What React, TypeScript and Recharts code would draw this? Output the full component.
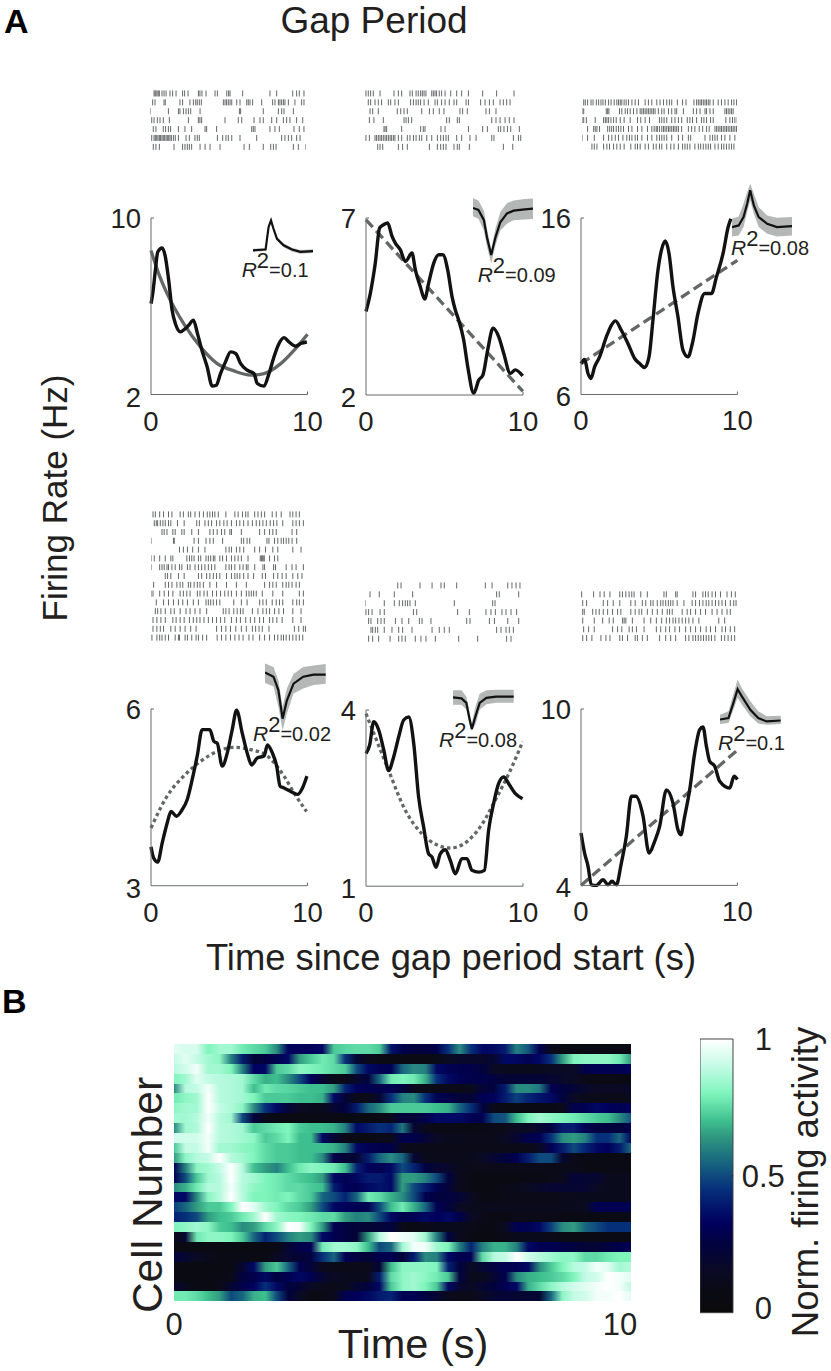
import React from "react";
import {
  Area,
  Bar,
  BarChart,
  Cell,
  ComposedChart,
  Line,
  LineChart,
  Scatter,
  ScatterChart,
  XAxis,
  YAxis,
} from "recharts";

const FONT = "'Liberation Sans', Arial, sans-serif";

// ---------- firing-rate traces ----------
const rateT1 = [0, .11, .28, .43, .71, .92, 1.13, 1.35, 1.56, 1.88, 2.2, 2.41, 2.71, 2.97, 3.25, 3.59, 3.91, 4.17, 4.44, 4.76, 5.09, 5.41, 5.73, 6.15, 6.58, 6.79, 7.22, 7.54, 7.86, 8.18, 8.5, 8.82, 9.25, 9.57, 9.96];
const rate1 = [6.12, 6.57, 7.63, 8.46, 8.64, 8.23, 7.18, 5.82, 5.21, 4.84, 4.99, 5.14, 5.37, 4.76, 4.01, 3.25, 2.38, 2.42, 2.95, 3.48, 3.93, 3.86, 3.4, 3.1, 2.95, 2.5, 2.38, 2.95, 3.71, 4.31, 4.58, 4.38, 4.19, 4.31, 4.38];
const fitT1 = [0, .49, 1.03, 2.09, 3.16, 4.23, 5.3, 6.37, 7.22, 8.29, 9.15, 10];
const fit1 = [8.53, 7.48, 6.57, 5.21, 4.16, 3.4, 3.07, 2.88, 2.95, 3.4, 4.01, 4.73];

const rateT2 = [0, .28, .59, .87, 1.12, 1.38, 1.66, 1.87, 2.19, 2.51, 2.93, 3.14, 3.46, 3.74, 3.99, 4.31, 4.63, 4.9, 5.2, 5.48, 5.69, 5.9, 6.22, 6.48, 6.86, 7.18, 7.45, 7.75, 8.09, 8.45, 8.77, 9.19, 9.51, 9.98];
const rate2 = [4.36, 4.88, 5.72, 6.72, 6.81, 6.86, 6.48, 6.29, 6.1, 5.77, 6.01, 5.54, 5.06, 4.71, 5.16, 5.72, 5.96, 5.96, 5.54, 4.78, 4.4, 4.12, 3.56, 2.8, 2.05, 2.42, 2.57, 3.27, 3.89, 3.65, 3.18, 2.61, 2.71, 2.54];
const fitT2 = [0, 10];
const fit2 = [6.95, 2.1];

const rateT3 = [0, .23, .45, .64, .87, 1.19, 1.62, 1.94, 2.2, 2.58, 3, 3.43, 3.75, 4.07, 4.35, 4.6, 4.92, 5.14, 5.39, 5.63, 5.88, 6.2, 6.52, 6.84, 7.12, 7.48, 7.91, 8.34, 8.66, 9.08, 9.41, 9.58];
const rate3 = [7.75, 7.98, 7.19, 6.91, 7.57, 8.13, 9.26, 9.92, 10.17, 9.64, 8.89, 8.04, 7.75, 7.53, 8.13, 10.21, 13.04, 14.17, 14.7, 13.98, 12.1, 10.4, 8.51, 8.13, 8.89, 10.59, 11.72, 11.72, 12.66, 13.98, 15.49, 15.96];
const fitT3 = [0, 10];
const fit3 = [7.75, 13.6];

const rateT4 = [0, .17, .43, .71, 1.03, 1.28, 1.62, 1.99, 2.31, 2.63, 2.95, 3.27, 3.49, 3.76, 4.02, 4.23, 4.55, 4.87, 5.19, 5.47, 5.83, 6.15, 6.43, 6.79, 7.22, 7.44, 7.76, 8.03, 8.25, 8.5, 8.93, 9.36, 9.68, 9.96];
const rate4 = [3.66, 3.47, 3.4, 3.72, 4.06, 4.26, 4.18, 4.29, 4.46, 4.8, 5.2, 5.65, 5.65, 5.65, 5.45, 5.42, 5.03, 5.25, 5.65, 5.98, 5.59, 5.25, 5.05, 5.17, 5.2, 5.39, 5.25, 5.03, 4.69, 4.66, 4.6, 4.55, 4.66, 4.86];
const fitT4 = [0, 1.03, 2.09, 3.16, 4.23, 5.3, 6.37, 7.44, 8.5, 9.15, 9.94];
const fit4 = [3.98, 4.52, 4.86, 5.11, 5.28, 5.35, 5.31, 5.2, 4.86, 4.57, 4.26];

const rateT5 = [0, .23, .49, .81, 1.13, 1.44, 1.76, 2.08, 2.4, 2.72, 3.04, 3.35, 3.67, 3.99, 4.2, 4.46, 4.73, 5.05, 5.37, 5.69, 6.11, 6.43, 6.75, 7.18, 7.54, 7.81, 8.13, 8.45, 8.77, 9.08, 9.5, 9.97];
const rate5 = [3.26, 3.4, 3.8, 3.66, 3.32, 2.97, 3.2, 3.54, 3.83, 3.88, 3.43, 2.52, 2.01, 1.55, 1.5, 1.32, 1.55, 1.62, 1.44, 1.21, 1.47, 1.47, 1.27, 1.24, 1.27, 1.95, 2.41, 2.75, 2.86, 2.75, 2.58, 2.49];
const fitT5 = [0, .59, 1.44, 2.51, 3.57, 4.63, 5.37, 6.22, 7.28, 8.34, 9.19, 9.98];
const fit5 = [3.94, 3.54, 2.97, 2.29, 1.89, 1.69, 1.65, 1.72, 2.01, 2.52, 2.97, 3.46];

const rateT6 = [0, .23, .45, .66, .98, 1.41, 1.73, 1.98, 2.26, 2.58, 2.9, 3.22, 3.5, 3.97, 4.35, 4.71, 5.03, 5.46, 5.88, 6.2, 6.38, 6.63, 6.95, 7.27, 7.59, 7.8, 8.02, 8.23, 8.55, 8.87, 9.51, 9.79, 10];
const rate6 = [5.78, 5.1, 4.65, 4.02, 4, 4.19, 4.02, 4.14, 4.02, 4.76, 5.67, 7.03, 7.03, 6.35, 5.1, 5.5, 6.01, 7.25, 6.8, 5.89, 5.72, 6.35, 7.25, 8.5, 9.3, 9.39, 8.73, 8.22, 8.05, 7.54, 7.31, 7.71, 7.6];
const fitT6 = [0, 10];
const fit6 = [4, 8.6];

// ---------- spike waveforms (normalised) ----------
const waveT1 = [0, .21, .23, .26, .3, .34, .4, .51, .65, .79, 1];
const wave1 = [.13, .15, .39, .74, .91, .7, .43, .26, .15, .09, .11];
const waveHi1 = [.17, .19, .43, .79, .98, .76, .48, .31, .2, .14, .16];
const waveLo1 = [.09, .11, .35, .69, .85, .64, .38, .21, .1, .04, .06];

const waveT2 = [0, .09, .18, .23, .3, .37, .45, .56, .67, .85, 1];
const wave2 = [.84, .81, .66, .41, .15, .41, .63, .76, .8, .82, .83];
const waveHi2 = [.98, .95, .8, .54, .24, .54, .78, .91, .95, .97, .98];
const waveLo2 = [.72, .68, .51, .27, .03, .29, .51, .61, .66, .67, .68];

const waveT3 = [0, .11, .19, .25, .3, .36, .44, .58, .74, 1];
const wave3 = [.19, .22, .37, .61, .85, .58, .37, .25, .19, .21];
const waveHi3 = [.34, .38, .61, .82, .97, .79, .55, .4, .36, .37];
const waveLo3 = [.02, .04, .19, .46, .67, .43, .19, .07, .02, .04];

const waveT4 = [0, .14, .22, .29, .36, .47, .63, .8, 1];
const wave4 = [.85, .79, .6, .19, .45, .69, .79, .82, .82];
const waveHi4 = [.98, .93, .74, .36, .62, .83, .93, .95, .97];
const waveLo4 = [.7, .65, .36, .02, .26, .55, .62, .67, .69];

const waveT5 = [0, .14, .22, .27, .31, .37, .44, .55, .71, 1];
const wave5 = [.79, .77, .67, .33, .09, .37, .67, .78, .81, .81];
const waveHi5 = [.95, .95, .81, .48, .22, .59, .87, .95, .96, .96];
const waveLo5 = [.63, .63, .52, .19, .04, .19, .52, .64, .67, .67];

const waveT6 = [0, .14, .22, .29, .36, .5, .63, .77, 1];
const wave6 = [.14, .17, .48, .77, .62, .34, .17, .1, .12];
const waveHi6 = [.24, .31, .66, .97, .79, .52, .31, .21, .22];
const waveLo6 = [.05, .07, .34, .59, .45, .21, .06, .03, .05];

// ---------- spike rasters (seconds per trial) ----------
const raster1 = [
  [.26, .32, .38, .45, .53, .6, .77, .9, 1.03, 1.28, 1.45, 1.67, 2.09, 2.22, 2.44, 3.1, 3.2, 3.33, 3.59, 4.17, 4.32, 4.92, 5.04, 5.13, 5.94, 7.69, 8.12, 9.15, 9.4, 9.57, 9.87],
  [.17, .32, .9, .98, 1.92, 2.09, 2.56, 2.78, 2.93, 3.03, 3.16, 3.29, 4.7, 4.81, 4.91, 5.02, 5.13, 5.24, 5.56, 5.77, 6.2, 6.3, 6.41, 6.58, 7.16, 7.86, 8.01, 8.23, 8.33, 8.44, 8.55, 8.65, 8.87, 9.29, 9.72, 9.87],
  [0, 1.18, 1.82, 1.92, 2.14, 2.31, 2.46, 2.61, 3.21, 5.73, 5.81, 7.26, 8.23, 8.44, 8.59, 9.19],
  [.11, .26, .47, .64, .85, 1.24, 2.46, 3.1, 3.2, 3.31, 4.81, 5.66, 5.88, 6.67, 7.05, 7.26, 7.8, 8.12, 8.55, 8.76, 8.97, 9.4, 9.79],
  [.21, .38, .85, 1, 1.18, 1.32, 1.82, 2.24, 2.67, 3.53, 3.63, 4.27, 6.52, 6.62, 6.73, 7.69, 8.01, 8.29, 9.23, 9.57, 9.87],
  [.11, .26, .34, .43, .51, .6, .68, .77, .85, .94, 1.03, 1.11, 1.2, 1.28, 1.37, 1.5, 1.62, 1.82, 2.31, 2.52, 2.88, 3.03, 3.16, 4.32, 4.66, 4.87, 5.02, 5.24, 5.77, 6.84, 8.44, 8.65, 8.87, 9.08, 9.4, 9.62],
  [.21, .38, .6, 1.54, 2.09, 2.24, 2.39, 2.52, 2.67, 3.21, 3.53, 3.85, 4.49, 6.03, 6.37, 7.26, 7.74, 7.91, 8.08, 9.19, 9.51, 10],
];
const raster2 = [
  [.06, .21, .36, .53, .96, 1.85, 2.13, 2.34, 2.87, 3.02, 3.26, 3.4, 3.55, 3.66, 3.77, 3.89, 4.26, 4.36, 4.47, 4.57, 4.74, 4.89, 5.11, 5.47, 5.85, 6.17, 6.6, 7.51, 8.4, 9.51],
  [.21, .36, .64, .85, 1.06, 1.49, 1.64, 1.91, 2.13, 2.91, 3.09, 3.26, 3.4, 3.55, 3.77, 4.04, 4.47, 4.62, 4.89, 5.11, 5.38, 5.68, 5.85, 6.45, 6.6, 7.38, 7.66, 7.94, 8.19, 8.62, 8.83, 9.04, 9.26],
  [.32, .49, .85, 2.06, 2.28, 2.49, 2.7, 3.62, 4.11, 4.36, 4.74, 5.04, 6.06, 6.23, 6.53, 7.72, 7.94, 8.36],
  [.28, .57, 1.17, 2.49, 2.62, 2.77, 2.98, 5.21, 5.38, 5.89, 6.02, 8.09, 8.36, 8.62, 8.94, 9.21, 9.51],
  [1.21, 1.28, 1.38, 2.34, 3.55, 3.72, 3.83, 4.85, 5.11, 6.6, 7.51, 7.81, 8.51, 8.66, 8.87, 9.09, 9.3, 9.85],
  [.06, .28, .64, .74, .85, .96, 1.06, 1.17, 1.28, 1.38, 1.49, 1.6, 1.7, 1.81, 1.91, 2.13, 2.34, 2.7, 2.87, 3.09, 3.26, 3.47, 3.62, 3.94, 4.26, 4.62, 4.83, 5, 5.17, 5.32, 5.85, 6.17, 6.7, 7.09, 8.09, 8.23, 9.47, 9.79, 9.94],
  [.81, .96, 1.13, 2.13, 2.4, 2.7, 4.11, 4.62, 4.83, 5, 5.17, 5.68, 5.89, 6.02, 6.66, 8.83, 9.43],
];
const raster3 = [
  [.11, .21, .36, .58, .71, .92, 1.07, 1.22, 1.35, 1.5, 1.71, 1.87, 2.07, 2.24, 2.35, 2.46, 2.56, 2.71, 2.84, 2.99, 3.21, 3.42, 3.63, 4.06, 4.27, 4.49, 4.81, 5.02, 5.24, 5.45, 5.62, 5.77, 6.13, 6.47, 6.69, 7.2, 7.37, 7.48, 7.59, 7.69, 7.8, 7.91, 8.01, 8.12, 8.23, 8.44, 8.76, 8.97, 9.19, 9.4, 9.62, 9.77, 9.94],
  [0, .11, 1.56, 1.65, 1.73, 2.41, 2.56, 2.78, 2.93, 3.1, 3.31, 3.53, 3.74, 3.85, 3.95, 4.06, 4.17, 4.27, 4.38, 4.49, 4.59, 4.7, 4.91, 5.13, 5.28, 5.56, 5.77, 5.98, 6.09, 6.52, 7.16, 7.37, 7.59, 7.91, 8.01, 8.23, 8.44, 9.19, 9.29, 9.4, 9.51, 9.62, 9.72],
  [0, .11, .28, .85, 1.39, 1.5, 1.6, 1.71, 1.86, 2.03, 2.2, 2.46, 2.71, 3.1, 3.57, 3.78, 4.06, 4.34, 4.98, 5.13, 5.28, 5.45, 5.77, 5.98, 6.2, 6.41, 6.77, 6.94, 7.11, 7.37, 7.69, 7.84, 8.01, 8.27, 8.44, 9.25, 9.51, 9.68, 9.83, 9.98],
  [.36, .75, .85, .96, 1.13, 1.65, 1.78, 1.91, 2.03, 2.2, 2.35, 2.5, 2.67, 2.99, 3.21, 3.57, 3.85, 4.21, 4.49, 4.64, 4.77, 4.85, 4.98, 5.13, 5.24, 5.34, 5.45, 5.56, 5.66, 5.77, 5.88, 5.98, 6.09, 6.2, 6.41, 6.84, 7.05, 7.26, 7.54, 7.76, 8.01, 8.18, 8.55, 8.66, 8.76, 8.87, 8.97, 9.08, 9.19, 9.29, 9.4, 9.51, 9.62, 9.72, 9.83, 9.94],
  [0, .36, .79, 1.39, 1.71, 1.92, 2.14, 2.35, 2.63, 2.88, 3.05, 3.21, 3.42, 3.57, 3.85, 4.21, 4.49, 4.81, 4.98, 5.13, 5.28, 5.45, 5.77, 6.2, 6.47, 6.84, 6.99, 7.91, 8.23, 8.4, 8.55, 8.7, 8.97, 9.19, 9.51, 9.83],
  [.64, .79, .96, 1.39, 1.6, 1.77, 2.03, 2.24, 2.46, 2.71, 3.14, 3.42, 3.57, 3.74, 4.06, 4.27, 4.59, 4.77, 4.98, 5.13, 5.45, 5.71, 5.92, 6.2, 6.47, 6.62, 6.77, 6.94, 7.26, 7.48, 7.63, 7.8, 7.97, 8.12, 8.27, 8.55, 8.76, 8.97, 9.12, 9.29, 9.46, 9.62, 9.77],
];
const raster4 = [
  [.13, .28, .56, .81, 1.13, 1.35, 1.88, 2.09, 2.41, 2.56, 2.84, 3.12, 3.38, 3.63, 3.8, 3.97, 4.12, 4.34, 4.83, 5.41, 5.62, 5.9, 6.11, 6.26, 6.69, 6.9, 7.12, 7.33, 7.82, 8.08, 8.4, 8.97, 9.15, 9.36, 9.57],
  [.21, .34, .43, .6, .77, .92, 1.13, 1.28, 1.71, 2.14, 2.95, 3.12, 3.48, 3.7, 3.91, 4.23, 4.44, 4.7, 4.91, 5.19, 5.51, 5.73, 5.98, 6.26, 6.54, 6.79, 7.01, 7.22, 7.44, 7.69, 7.91, 8.12, 8.5, 9.15, 9.36, 9.57, 9.83],
  [.71, .85, 1.03, 1.41, 1.56, 1.99, 2.14, 2.63, 3.06, 3.8, 4.02, 4.27, 4.55, 4.76, 5.09, 5.19, 5.83, 7.01, 7.33, 7.65, 7.86, 8.08, 9.1, 9.4],
  [0, 1.45, 1.5, 2.78, 3.06, 3.55, 3.8, 4.02, 4.62, 5.83, 5.98, 6.2, 6.37, 7.48, 7.61, 7.97, 8.18, 8.4, 8.55, 8.72, 8.89, 9.1, 9.4],
  [1.84, 2.09, 2.35, 2.69, 3.06, 3.48, 4.83, 5.04, 5.19, 5.51, 5.73, 5.98, 6.69, 7.01, 7.39, 7.86, 8.18, 9.15, 9.68],
  [0, .21, .56, .92, 1.28, 1.41, 2.31, 2.48, 2.63, 2.78, 3.06, 3.21, 3.55, 3.7, 3.85, 4.02, 4.12, 4.44, 4.62, 4.87, 5.19, 5.41, 5.62, 5.83, 6.26, 7.05, 7.12, 7.18, 7.24, 7.31, 7.65, 7.97, 8.18],
  [0, .56, .71, .85, 1.03, 1.13, 1.35, 1.56, 1.84, 1.99, 2.35, 2.52, 2.84, 3.06, 3.27, 3.48, 3.7, 3.91, 4.12, 4.83, 5.04, 5.19, 5.41, 5.73, 5.94, 6.15, 6.26, 6.69, 7.22, 7.33, 7.91, 8.03, 8.72, 9.1, 9.36, 9.83],
  [.92, 1.07, 1.28, 1.77, 2.14, 3.06, 3.27, 3.59, 3.8, 4.02, 4.23, 4.44, 4.87, 5.19, 5.41, 5.56, 5.73, 5.98, 6.26, 6.62, 7.18, 7.39, 7.91, 8.18, 8.46, 8.72, 9.15, 9.47, 9.74],
  [.17, .92, 1.13, 1.35, 1.67, 1.88, 2.05, 2.41, 2.56, 2.78, 2.99, 3.16, 3.38, 3.8, 4.23, 4.87, 5.51, 6.15, 7.33, 7.65, 7.86, 8.08, 8.5, 8.72, 8.89, 9.1, 9.36, 9.57],
  [0, .13, .56, .85, 1.13, 1.41, 1.88, 2.09, 2.31, 2.52, 2.99, 3.16, 3.42, 3.63, 3.97, 4.23, 4.49, 4.76, 4.98, 5.19, 5.51, 5.83, 6.15, 6.32, 6.47, 6.62, 6.79, 7.18, 7.86, 8.5, 9.57, 9.83],
  [.34, .81, 1.13, 1.45, 1.77, 2.05, 2.35, 2.73, 3.06, 3.55, 3.7, 3.85, 4.02, 4.23, 4.44, 5.34, 5.83, 6.2, 7.01, 7.22, 7.44, 7.82, 8.08, 8.29, 8.5, 9.15, 9.4, 9.57, 9.83],
  [.28, .43, .64, .92, 1.28, 1.5, 1.88, 2.26, 2.52, 2.84, 3.16, 3.59, 4.66, 4.83, 5.04, 5.34, 5.56, 5.77, 5.94, 6.54, 6.9, 7.22, 7.44, 7.65, 7.97, 8.25, 8.55, 9.15, 9.68],
  [.13, .38, .64, .92, 1.41, 1.62, 1.88, 2.14, 2.48, 2.73, 2.95, 3.16, 3.42, 3.7, 3.97, 4.23, 4.49, 4.76, 5.19, 5.51, 5.77, 6.11, 6.41, 6.69, 7.01, 7.26, 7.65, 7.86, 8.12, 8.46, 9.15, 9.68],
  [.13, .38, .6, .81, 1.28, 1.56, 1.88, 2.2, 2.56, 2.91, 4.23, 4.55, 4.83, 5.13, 5.47, 5.83, 6.15, 6.54, 6.75, 6.97, 7.18, 7.61, 9.25, 9.53, 9.83, 9.96],
  [.06, .38, .56, .71, .92, 1.13, 1.56, 1.77, 1.84, 2.2, 2.35, 2.63, 2.91, 3.06, 3.33, 3.59, 4.27, 4.55, 4.83, 5.13, 5.41, 5.68, 5.94, 6.32, 6.58, 7.01, 7.33, 7.65, 7.97, 8.18, 8.4, 8.55, 8.72, 8.93, 9.15, 9.36, 9.57, 9.79],
];
const raster5 = [
  [2.09, 2.3, 3.51, 4.28, 4.85, 5.06, 5.85, 7.68, 8.11, 9.11, 9.38, 9.64, 9.89],
  [.32, .91, 1.87, 3.04, 8.4, 8.57, 9.81],
  [0, 1.23, 1.87, 2.19, 2.4, 2.57, 2.72, 2.87, 3.21, 5.7, 8.15, 8.3],
  [.06, .23, .45, .96, 1.23, 3.09, 3.3, 5.91, 6.66, 7.72, 8.04, 8.32, 8.74, 9, 9.32, 9.68],
  [.23, .38, .81, 1.02, 1.23, 1.94, 2.36, 2.79, 3.47, 3.64, 4.21, 6.49, 6.7, 7.94, 8.26, 9.11, 9.81],
  [.38, .49, .66, .81, 1.23, 1.72, 2.15, 2.4, 3, 4.28, 4.74, 5.06, 5.38, 8.4, 8.68, 9, 9.21, 9.47],
  [.23, .49, .87, 1.6, 2.15, 2.36, 2.57, 3.21, 3.57, 3.89, 4.49, 5.98, 7.19, 9.04, 9.32],
];
const raster6 = [
  [.04, .81, 1.22, 1.49, 1.86, 2.49, 2.66, 2.88, 3.09, 3.26, 3.41, 3.84, 4.26, 5.33, 5.48, 6.08, 6.18, 7.19, 7.36, 7.83, 8, 8.17, 8.42, 8.64, 8.96, 9.38, 9.66, 9.91],
  [.11, .36, 1.43, 1.71, 2.07, 2.49, 3.2, 3.48, 3.94, 4.16, 4.48, 4.63, 4.9, 5.12, 5.27, 5.44, 5.61, 5.76, 5.91, 6.18, 6.61, 7.14, 7.36, 7.61, 7.83, 8.04, 8.21, 8.42, 8.64, 8.85, 9.06, 9.28, 9.59, 9.81, 9.96],
  [.11, .21, .75, .96, 1.17, 1.43, 1.71, 2.03, 2.35, 2.56, 3.2, 3.48, 3.73, 3.9, 4.26, 4.58, 4.9, 5.22, 5.54, 5.69, 5.86, 6.5, 6.82, 7.04, 7.36, 7.68, 8, 8.42, 8.74, 9.06, 9.38, 9.59],
  [.11, .85, 1.39, 1.81, 2.07, 2.67, 2.77, 2.88, 3.3, 4.05, 4.48, 4.84, 5.18, 5.48, 5.69, 5.91, 6.08, 6.29, 6.5, 6.72, 6.93, 7.19, 7.57, 8.85, 9.23],
  [.17, .49, .85, 2.03, 2.35, 2.62, 3.09, 3.3, 3.56, 4.05, 4.84, 5.12, 5.44, 5.69, 6.03, 6.33, 6.72, 7.04, 7.36, 7.68, 8.04, 8.32, 8.64, 9.06, 9.28, 9.59, 9.87],
  [.11, .36, .7, 1.28, 1.6, 1.86, 2.49, 2.66, 2.99, 3.48, 3.62, 3.94, 4.26, 5.05, 5.44, 5.76, 6.08, 6.72, 6.93, 7.19, 7.36, 7.53, 7.7, 7.87, 8.04, 8.21, 8.38, 8.6, 9.02, 9.23, 9.45, 9.66, 9.87],
];

// ---------- heat map: activity per cell, sampled every 0.25 s from 0 to 10 s ----------
const heatRows = [
  [.95, .93, .93, .8, .85, .85, .78, .75, .72, .62, .33, .32, .32, .35, .72, .74, .75, .75, .72, .38, .28, .25, .25, .28, .45, .62, .45, .35, .35, .4, .6, .52, .3, .12, .08, .08, .08, .08, .08, .08, .08],
  [.9, .95, .9, .85, .82, .6, .4, .22, .25, .3, .35, .65, .72, .78, .75, .45, .2, .12, .08, .08, .08, .08, .08, .1, .15, .18, .18, .18, .2, .35, .35, .3, .35, .45, .65, .8, .82, .82, .82, .78, .65],
  [.88, .92, .98, .85, .85, .8, .6, .33, .35, .72, .75, .82, .8, .78, .75, .72, .5, .35, .3, .3, .55, .62, .6, .35, .3, .28, .28, .25, .15, .12, .12, .12, .12, .15, .15, .15, .28, .3, .3, .3, .32],
  [.8, .85, .95, .9, .88, .87, .85, .75, .68, .7, .62, .5, .32, .2, .1, .1, .18, .25, .55, .78, .8, .78, .68, .45, .35, .3, .28, .28, .25, .22, .22, .22, .22, .2, .18, .15, .1, .08, .08, .08, .08],
  [.62, .88, .9, .98, .88, .87, .85, .7, .78, .75, .74, .72, .7, .7, .65, .42, .32, .3, .28, .3, .25, .12, .1, .1, .1, .1, .12, .22, .25, .4, .62, .62, .58, .3, .25, .22, .18, .15, .15, .15, .18],
  [.78, .82, .85, 1, .88, .87, .85, .8, .72, .72, .72, .7, .7, .68, .35, .22, .1, .1, .2, .45, .6, .62, .45, .3, .28, .22, .22, .3, .32, .4, .48, .42, .38, .35, .25, .15, .12, .1, .1, .1, .12],
  [.82, .85, .85, 1, .9, .87, .82, .62, .45, .35, .22, .15, .12, .12, .2, .25, .4, .55, .62, .72, .72, .72, .72, .7, .68, .55, .45, .25, .1, .08, .08, .08, .08, .08, .12, .28, .3, .35, .33, .3, .33],
  [.85, .85, .88, .98, .88, .85, .5, .25, .1, .08, .07, .07, .08, .08, .08, .08, .08, .08, .08, .12, .25, .22, .28, .35, .35, .35, .3, .3, .5, .52, .7, .8, .85, .82, .8, .78, .75, .72, .7, .62, .52],
  [.62, .85, .87, 1, .88, .87, .85, .72, .75, .78, .8, .72, .7, .7, .68, .6, .35, .4, .45, .42, .58, .2, .12, .08, .08, .08, .08, .08, .1, .1, .15, .15, .2, .25, .4, .4, .3, .25, .25, .25, .28],
  [.92, .92, .92, .98, .88, .87, .85, .82, .72, .75, .8, .7, .7, .35, .2, .1, .08, .08, .1, .12, .28, .28, .22, .15, .12, .12, .1, .1, .1, .15, .2, .28, .3, .45, .62, .65, .6, .45, .45, .55, .35],
  [.72, .9, .9, .98, .85, .85, .82, .8, .75, .72, .72, .7, .7, .7, .68, .6, .35, .3, .28, .28, .12, .1, .1, .1, .1, .1, .1, .1, .1, .1, .1, .1, .15, .3, .4, .5, .42, .35, .32, .4, .55],
  [.65, .82, .88, .9, 1, .88, .85, .8, .75, .72, .72, .7, .7, .62, .28, .22, .2, .4, .55, .62, .55, .2, .12, .1, .1, .1, .12, .15, .2, .25, .3, .4, .5, .5, .2, .1, .08, .08, .08, .08, .08],
  [.3, .6, .82, .85, .9, 1, .88, .7, .65, .6, .7, .78, .82, .8, .78, .7, .42, .32, .3, .35, .5, .42, .25, .2, .18, .12, .1, .1, .1, .1, .1, .1, .1, .1, .1, .1, .08, .08, .08, .08, .08],
  [.3, .5, .72, .85, .88, 1, .88, .85, .8, .78, .75, .72, .7, .65, .35, .3, .35, .4, .4, .35, .65, .65, .6, .5, .25, .12, .08, .07, .07, .07, .07, .07, .08, .1, .12, .22, .2, .2, .12, .12, .12],
  [.62, .68, .78, .88, .88, .98, .88, .82, .8, .78, .75, .75, .72, .7, .4, .32, .3, .35, .38, .35, .65, .5, .4, .3, .22, .12, .08, .07, .07, .1, .12, .15, .18, .2, .2, .2, .2, .15, .12, .12, .12],
  [.35, .35, .62, .82, .88, 1, .88, .8, .8, .78, .8, .75, .72, .55, .5, .42, .55, .78, .75, .68, .62, .5, .3, .25, .25, .22, .15, .08, .08, .1, .1, .1, .1, .1, .1, .12, .12, .12, .12, .12, .12],
  [.48, .55, .65, .72, .72, .8, 1, .95, .85, .8, .75, .72, .65, .5, .35, .32, .3, .3, .5, .7, .78, .68, .55, .3, .25, .15, .12, .12, .12, .12, .12, .12, .12, .12, .12, .12, .15, .3, .3, .3, .3],
  [.42, .45, .5, .65, .7, .72, .78, .85, 1, .85, .82, .8, .78, .75, .75, .65, .6, .62, .5, .35, .28, .3, .35, .32, .35, .28, .15, .1, .08, .08, .1, .1, .1, .1, .08, .08, .08, .08, .08, .08, .1],
  [.8, .82, .85, .82, .72, .7, .62, .65, .75, .82, 1, .98, .8, .65, .3, .25, .22, .22, .22, .25, .1, .08, .1, .12, .12, .12, .1, .08, .08, .15, .3, .3, .35, .48, .62, .65, .55, .5, .45, .45, .45],
  [.1, .2, .78, .82, .82, .8, .72, .55, .42, .5, .6, .65, .62, .35, .3, .25, .22, .65, .88, 1, .98, .95, .85, .6, .25, .12, .08, .07, .07, .1, .12, .12, .12, .1, .08, .08, .08, .08, .08, .08, .08],
  [.07, .07, .07, .07, .07, .07, .07, .07, .07, .08, .2, .28, .3, .78, .85, .85, .82, .7, .5, .55, .85, .98, .98, .85, .8, .6, .42, .6, .68, .68, .6, .35, .3, .3, .28, .25, .22, .22, .25, .28, .3],
  [.25, .2, .15, .12, .08, .08, .08, .08, .08, .15, .2, .22, .25, .45, .55, .3, .25, .22, .28, .3, .22, .4, .62, .6, .35, .28, .3, .75, .88, .9, 1, .92, .88, .85, .82, .82, .75, .75, .78, .8, .8],
  [.07, .07, .07, .07, .07, .08, .2, .35, .65, .72, .55, .3, .22, .12, .1, .1, .1, .12, .22, .7, .82, .82, .82, .8, .42, .25, .15, .2, .25, .3, .3, .35, .62, .72, .8, .88, .9, .98, .95, .85, .88],
  [.07, .07, .07, .07, .08, .1, .25, .28, .35, .25, .3, .35, .3, .2, .15, .12, .12, .12, .4, .75, .82, .85, .82, .78, .72, .25, .12, .12, .2, .28, .62, .68, .7, .72, .75, .8, .9, .92, 1, .98, .95],
  [.2, .12, .08, .07, .1, .2, .28, .32, .45, .35, .25, .22, .15, .12, .1, .12, .2, .25, .35, .72, .82, .85, .8, .72, .35, .2, .15, .2, .25, .3, .35, .68, .75, .82, .88, .92, .95, .98, 1, .98, .9],
  [.78, .78, .75, .7, .65, .5, .55, .68, .7, .5, .25, .15, .08, .08, .12, .3, .32, .35, .4, .42, .3, .3, .25, .2, .12, .1, .1, .15, .2, .22, .2, .2, .2, .55, .82, .9, .92, .98, .98, 1, .95],
];
const colorLevels = [0, .08, .15, .25, .33, .45, .55, .65, .7, .8, .9, 1];
const colorValues = ["#0a0a0c", "#0a0a14", "#0a0a24", "#02023f", "#00005e", "#062f7a", "#17657f", "#319c80", "#3ebf8f", "#7ff5bc", "#c4fbe6", "#ffffff"];
const colorbarStops = [0, .08, .15, .25, .33, .45, .55, .65, .7, .8, .9, 1];

const hex = (h: string) => [1, 3, 5].map((i) => parseInt(h.slice(i, i + 2), 16));
function colorOf(v: number) {
  let i = 0;
  while (i < colorLevels.length - 2 && v > colorLevels[i + 1]) i++;
  const f = Math.min(1, Math.max(0, (v - colorLevels[i]) / (colorLevels[i + 1] - colorLevels[i])));
  const a = hex(colorValues[i]);
  const b = hex(colorValues[i + 1]);
  return `rgb(${a.map((c, k) => Math.round(c + (b[k] - c) * f)).join(",")})`;
}

const zipXY = (xs: number[], ys: number[]) => xs.map((x, i) => ({ x, y: ys[i] }));
const wavePoints = (t: number[], m: number[], hi: number[], lo: number[]) =>
  t.map((x, i) => ({ x, mean: m[i], band: [lo[i], hi[i]] }));

const GREY = "#636867";
const AXIS = "#666a6a";

const panels = [
  {
    rate: zipXY(rateT1, rate1), fit: zipXY(fitT1, fit1), yDomain: [2, 10], dash: undefined, curve: "monotone",
    plot: [150.5, 218, 156.5, 176.5], raster: raster1, rasterBox: [150, 88.9, 156, 62.3],
    wave: wavePoints(waveT1, wave1, waveHi1, waveLo1), waveBox: [252.7, 216.7, 60, 38.3],
    r2: "=0.1", r2Pos: [241.7, 277],
  },
  {
    rate: zipXY(rateT2, rate2), fit: zipXY(fitT2, fit2), yDomain: [2, 7], dash: "10 5", curve: "linear",
    plot: [365.7, 218, 157, 177], raster: raster2, rasterBox: [365, 88.9, 156.7, 62.3],
    wave: wavePoints(waveT2, wave2, waveHi2, waveLo2), waveBox: [472.7, 196.7, 60.7, 68.3],
    r2: "=0.09", r2Pos: [477.7, 282],
  },
  {
    rate: zipXY(rateT3, rate3), fit: zipXY(fitT3, fit3), yDomain: [6, 16], dash: "10 5", curve: "linear",
    plot: [581.3, 218, 156.4, 176.5], raster: raster3, rasterBox: [581.7, 98, 155.5, 53],
    wave: wavePoints(waveT3, wave3, waveHi3, waveLo3), waveBox: [731.7, 181.7, 60.7, 55.7],
    r2: "=0.08", r2Pos: [731, 255],
  },
  {
    rate: zipXY(rateT4, rate4), fit: zipXY(fitT4, fit4), yDomain: [3, 6], dash: "3.5 3", curve: "monotone",
    plot: [150.5, 709.3, 156.5, 176.7], raster: raster4, rasterBox: [151, 509.6, 155, 132],
    wave: wavePoints(waveT4, wave4, waveHi4, waveLo4), waveBox: [265, 661.7, 60.7, 70],
    r2: "=0.02", r2Pos: [253, 740.7],
  },
  {
    rate: zipXY(rateT5, rate5), fit: zipXY(fitT5, fit5), yDomain: [1, 4], dash: "3.5 3", curve: "monotone",
    plot: [365.7, 709.5, 157, 176.2], raster: raster5, rasterBox: [365, 580.6, 156.7, 62.2],
    wave: wavePoints(waveT5, wave5, waveHi5, waveLo5), waveBox: [453.3, 688.3, 60.7, 45],
    r2: "=0.08", r2Pos: [439, 747],
  },
  {
    rate: zipXY(rateT6, rate6), fit: zipXY(fitT6, fit6), yDomain: [4, 10], dash: "10 5", curve: "linear",
    plot: [581.3, 709.3, 156.4, 176.4], raster: raster6, rasterBox: [581.3, 589.6, 155.7, 52.4],
    wave: wavePoints(waveT6, wave6, waveHi6, waveLo6), waveBox: [720, 678.3, 60.7, 48.3],
    r2: "=0.1", r2Pos: [718, 750],
  },
];

const abs = (left: number, top: number): React.CSSProperties => ({ position: "absolute", left, top });

function RatePanel({ p }: { p: (typeof panels)[number] }) {
  const [left, top, w, h] = p.plot;
  const yMin = p.yDomain[0];
  return (
    <div style={abs(left - 50, top - 25)}>
      <LineChart width={w + 80} height={h + 70} margin={{ top: 25, right: 30, bottom: 0, left: 0 }}>
        <XAxis
          type="number" dataKey="x" domain={[0, 10]} ticks={[0, 10]} height={45} stroke={AXIS}
          tickSize={0} tickMargin={0} interval={0} allowDuplicatedCategory={false}
          tick={(t: any) => (
            <g>
              <line x1={t.x} x2={t.x} y1={t.y} y2={t.y - (t.payload.value === 10 ? 3 : 0)} stroke={AXIS} />
              <text x={t.x} y={t.y + 36} textAnchor="middle" fontFamily={FONT} fontSize={27.5} fill="#231f20">{t.payload.value}</text>
            </g>
          )}
        />
        <YAxis
          type="number" dataKey="y" domain={p.yDomain} ticks={p.yDomain} width={50} stroke={AXIS}
          tickSize={0} tickMargin={0} interval={0}
          tick={(t: any) => (
            <g>
              <line x1={t.x} x2={t.x + (t.payload.value === yMin ? 0 : 3)} y1={t.y} y2={t.y} stroke={AXIS} />
              <text x={t.x - 10} y={t.y + (t.payload.value === yMin ? 12 : 10)} textAnchor="end" fontFamily={FONT} fontSize={27.5} fill="#231f20">{t.payload.value}</text>
            </g>
          )}
        />
        <Line data={p.fit} dataKey="y" type={p.curve as any} dot={false} stroke={GREY} strokeWidth={3.3} strokeDasharray={p.dash} isAnimationActive={false} />
        <Line data={p.rate} dataKey="y" type="monotone" dot={false} stroke="#121212" strokeWidth={3.4} strokeLinejoin="round" isAnimationActive={false} />
      </LineChart>
    </div>
  );
}

function Raster({ rows, box }: { rows: number[][]; box: number[] }) {
  const [left, top, w, h] = box;
  const spikes = rows.flatMap((r, ri) => r.map((x) => ({ x, y: ri })));
  return (
    <div style={abs(left, top)}>
      <ScatterChart width={w} height={h} margin={{ top: 0, right: 0, bottom: 0, left: 0 }}>
        <XAxis type="number" dataKey="x" domain={[0, 10]} hide />
        <YAxis type="number" dataKey="y" domain={[-0.5, rows.length - 0.5]} reversed hide />
        <Scatter
          data={spikes}
          isAnimationActive={false}
          shape={(s: any) => <line x1={s.cx} x2={s.cx} y1={s.cy - 3} y2={s.cy + 3} stroke="#626667" strokeWidth={1} />}
        />
      </ScatterChart>
    </div>
  );
}

function Waveform({ data, box }: { data: any[]; box: number[] }) {
  const [left, top, w, h] = box;
  return (
    <div style={abs(left, top)}>
      <ComposedChart width={w} height={h} data={data} margin={{ top: 0, right: 0, bottom: 0, left: 0 }}>
        <XAxis type="number" dataKey="x" domain={[0, 1]} hide />
        <YAxis type="number" domain={[0, 1]} hide />
        <Area dataKey="band" type="linear" stroke="none" fill="#b3b7b6" fillOpacity={1} dot={false} activeDot={false} isAnimationActive={false} />
        <Line dataKey="mean" type="linear" stroke="#111" strokeWidth={2.2} dot={false} isAnimationActive={false} />
      </ComposedChart>
    </div>
  );
}

const heatData = heatRows.map((_, i) => ({ name: `cell${i + 1}`, span: 10 }));

function HeatMap() {
  const plotW = 457;
  const plotH = 257.4;
  return (
    <div style={abs(174.3 - 30, 1044.3)}>
      <BarChart
        layout="vertical" width={plotW + 60} height={plotH + 50} data={heatData} barCategoryGap={0}
        margin={{ top: 0, right: 30, bottom: 0, left: 30 }}
      >
        <defs>
          {heatRows.map((row, i) => (
            <linearGradient key={i} id={`heat-${i}`} x1="0" x2="1" y1="0" y2="0">
              {row.map((v, k) => (
                <stop key={k} offset={k / (row.length - 1)} stopColor={colorOf(v)} />
              ))}
            </linearGradient>
          ))}
        </defs>
        <XAxis
          type="number" domain={[0, 10]} ticks={[0, 10]} height={50} axisLine={false} tickSize={0} tickMargin={0} interval={0}
          tick={(t: any) => (
            <text x={t.x - (t.payload.value === 10 ? 11 : 0)} y={t.y + 34} textAnchor="middle" fontFamily={FONT} fontSize={31} fill="#231f20">{t.payload.value}</text>
          )}
        />
        <YAxis type="category" dataKey="name" hide />
        <Bar dataKey="span" isAnimationActive={false} shapeRendering="crispEdges">
          {heatRows.map((_, i) => (
            <Cell key={i} fill={`url(#heat-${i})`} />
          ))}
        </Bar>
      </BarChart>
    </div>
  );
}

const colorbarData = [{ name: "scale", top: 1 }];

function Colorbar() {
  const plotH = 273.7;
  return (
    <div style={abs(700, 1039 - 20)}>
      <BarChart
        width={33.3 + 70} height={plotH + 40} data={colorbarData} barCategoryGap={0}
        margin={{ top: 20, right: 0, bottom: 20, left: 0 }}
      >
        <defs>
          <linearGradient id="cbar" x1="0" x2="0" y1="1" y2="0">
            {colorbarStops.map((v) => (
              <stop key={v} offset={v} stopColor={colorOf(v)} />
            ))}
          </linearGradient>
        </defs>
        <XAxis dataKey="name" hide />
        <YAxis
          orientation="right" type="number" domain={[0, 1]} ticks={[0, 0.5, 1]} width={70} axisLine={false}
          tickSize={0} tickMargin={0} interval={0}
          tick={(t: any) => (
            <g>
              {t.payload.value === 0.5 && <line x1={t.x - 2} x2={t.x} y1={t.y} y2={t.y} stroke="#333" />}
              <text x={t.x + 30} y={t.y + (t.payload.value === 0 ? 6 : 11)} textAnchor="middle" fontFamily={FONT} fontSize={31} fill="#231f20">{t.payload.value}</text>
            </g>
          )}
        />
        <Bar dataKey="top" fill="url(#cbar)" stroke="#444" strokeWidth={1} isAnimationActive={false} />
      </BarChart>
    </div>
  );
}

function Labels() {
  const t = { fontFamily: FONT, fill: "#231f20" };
  return (
    <svg width={831} height={1371} style={{ ...abs(0, 0), pointerEvents: "none" }}>
      <text {...t} x={4} y={33} fontSize={34} fontWeight="bold" fill="#000">A</text>
      <text {...t} x={2} y={1013} fontSize={34} fontWeight="bold" fill="#000">B</text>
      <text {...t} x={374} y={33} fontSize={37} textAnchor="middle">Gap Period</text>
      <text {...t} transform="translate(67,498) rotate(-90)" fontSize={35} textAnchor="middle">Firing Rate (Hz)</text>
      <text {...t} x={451} y={970} fontSize={36.4} textAnchor="middle">Time since gap period start (s)</text>
      <text {...t} transform="translate(162,1195) rotate(-90)" fontSize={42.5} textAnchor="middle">Cell Number</text>
      <text {...t} x={413} y={1358} fontSize={41.5} textAnchor="middle">Time (s)</text>
      <text {...t} transform="translate(818,1182) rotate(-90)" fontSize={36.5} textAnchor="middle">Norm. firing activity</text>
      {panels.map((p, i) => (
        <text key={i} {...t} x={p.r2Pos[0]} y={p.r2Pos[1]} fontSize={20}>
          <tspan fontStyle="italic" fontSize={21}>R</tspan>
          <tspan dy={-9} fontSize={22}>2</tspan>
          <tspan dy={9}>{p.r2}</tspan>
        </text>
      ))}
    </svg>
  );
}

export default function App() {
  return (
    <div style={{ ...abs(0, 0), width: 831, height: 1371, background: "#fff", overflow: "hidden" }}>
      {panels.map((p, i) => (
        <React.Fragment key={i}>
          <Raster rows={p.raster} box={p.rasterBox} />
          <RatePanel p={p} />
          <Waveform data={p.wave} box={p.waveBox} />
        </React.Fragment>
      ))}
      <HeatMap />
      <Colorbar />
      <Labels />
    </div>
  );
}
